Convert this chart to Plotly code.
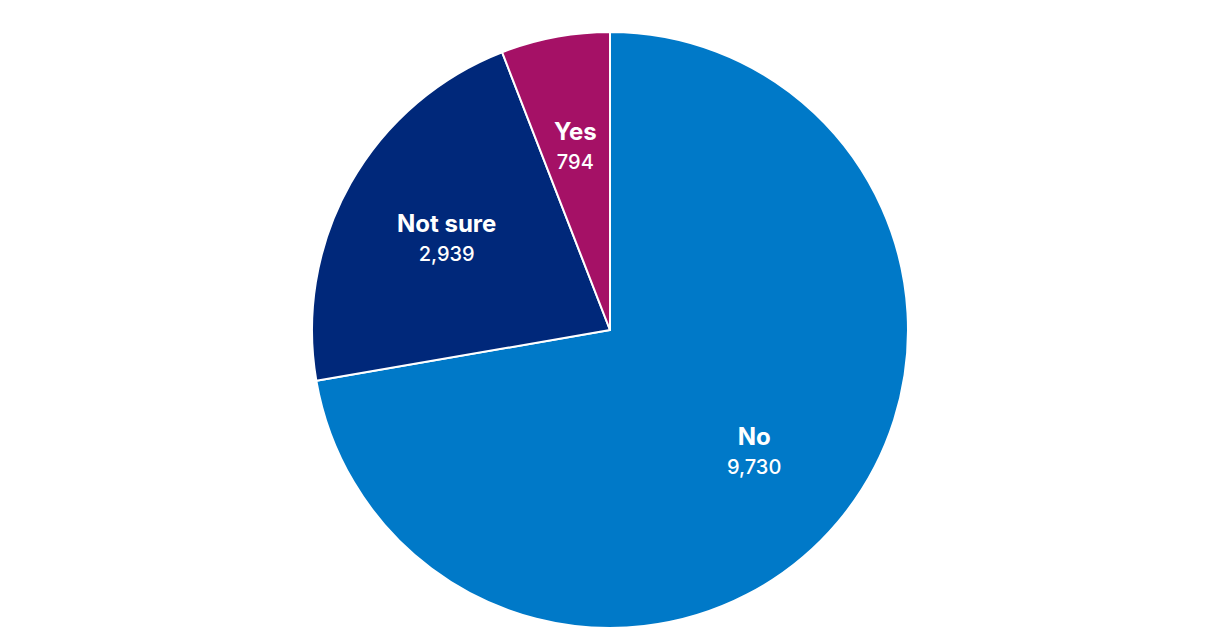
import numpy as np
import plotly.graph_objects as go

labels = ["No", "Not sure", "Yes"]
values = [9730, 2939, 794]
colors = ["#0079C8", "#00287A", "#A51166"]

W, H = 1204, 624
margin = dict(l=0, r=0, t=24, b=4)
plot_w = W - margin["l"] - margin["r"]
plot_h = H - margin["t"] - margin["b"]
radius = min(plot_w, plot_h) / 2
label_dist = 0.63 * radius

fig = go.Figure()
fig.add_trace(go.Pie(
    labels=labels,
    values=values,
    sort=False,
    direction="clockwise",
    rotation=0,
    marker=dict(colors=colors, line=dict(color="#FFFFFF", width=2)),
    textinfo="none",
    hoverinfo="label+value",
    showlegend=False,
))

# put the labels on the bisector of each slice, like the original
vals = np.array(values, dtype=float)
ends = np.cumsum(vals) / vals.sum() * 2 * np.pi
mids = ends - vals / vals.sum() * np.pi
for lab, val, ang in zip(labels, values, mids):
    fig.add_annotation(
        xref="paper", yref="paper",
        x=0.5 + label_dist * np.sin(ang) / plot_w,
        y=0.5 + label_dist * np.cos(ang) / plot_h,
        xanchor="center", yanchor="middle",
        text=(f"<span style='font-size:24px;font-weight:700'>{lab}</span><br>"
              f"<span style='font-size:20px;font-weight:500'>{val:,}</span>"),
        showarrow=False,
        font=dict(family="Inter, Roboto, sans-serif", size=22, color="#FFFFFF"),
    )

fig.update_layout(
    width=W, height=H,
    margin=margin,
    paper_bgcolor="#FFFFFF",
    plot_bgcolor="#FFFFFF",
)

fig.write_html("out.html")
